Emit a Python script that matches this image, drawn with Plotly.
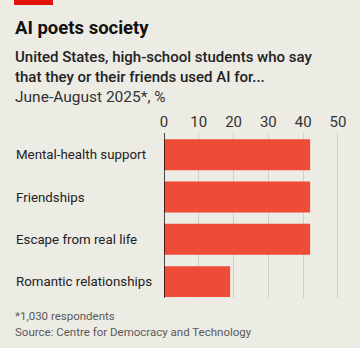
import plotly.graph_objects as go

categories = ["Mental-health support", "Friendships", "Escape from real life", "Romantic relationships"]
values = [42, 42, 42, 19]
tick_vals = [0, 10, 20, 30, 40, 50]
tick_text = ["0", "10", "20", "30", "40", "50"]

W, H = 360, 348
L, R, T, B = 164, 21, 133, 50
PW, PH = W - L - R, H - T - B

def px(x):
    return (x - L) / PW

def py(y):
    return 1 - (y - T) / PH

BG = "#ecebe4"
RED = "#ee4c37"
FONT = "Roboto"

fig = go.Figure()
fig.add_trace(go.Bar(
    x=values, y=categories, orientation="h",
    marker=dict(color=RED, line=dict(width=0)),
    hoverinfo="skip",
))

annotations = []
for c in categories:
    annotations.append(dict(
        x=px(14), xref="paper", y=c, yref="y", text=c, showarrow=False,
        xanchor="left", yanchor="middle",
        font=dict(family=FONT, size=13.3, color="#222222"),
    ))

annotations += [
    dict(x=px(13), y=py(28), xref="paper", yref="paper", text="<b>AI poets society</b>",
         showarrow=False, xanchor="left", yanchor="middle",
         font=dict(family=FONT, size=18.5, color="#111111")),
    dict(x=px(13), y=py(57), xref="paper", yref="paper",
         text="United States, high-school students who say",
         showarrow=False, xanchor="left", yanchor="middle",
         font=dict(family=FONT, size=15, color="#222222", weight=500)),
    dict(x=px(13), y=py(77), xref="paper", yref="paper",
         text="that they or their friends used AI for...",
         showarrow=False, xanchor="left", yanchor="middle",
         font=dict(family=FONT, size=15, color="#222222", weight=500)),
    dict(x=px(13), y=py(97), xref="paper", yref="paper",
         text="June-August 2025*, %",
         showarrow=False, xanchor="left", yanchor="middle",
         font=dict(family=FONT, size=15.5, color="#333333")),
    dict(x=px(13), y=py(316), xref="paper", yref="paper",
         text="*1,030 respondents",
         showarrow=False, xanchor="left", yanchor="middle",
         font=dict(family=FONT, size=11.5, color="#5a5a5a")),
    dict(x=px(13), y=py(332), xref="paper", yref="paper",
         text="Source: Centre for Democracy and Technology",
         showarrow=False, xanchor="left", yanchor="middle",
         font=dict(family=FONT, size=11.5, color="#5a5a5a")),
]

shapes = [
    dict(type="rect", xref="paper", yref="paper",
         x0=px(14), x1=px(53), y0=py(0), y1=py(5),
         fillcolor="#e3120b", line=dict(width=0), layer="above"),
    dict(type="line", xref="x", yref="paper", x0=0, x1=0, y0=0, y1=1,
         line=dict(color="#111111", width=1.5), layer="above"),
]

fig.update_layout(
    width=W, height=H,
    margin=dict(l=L, r=R, t=T, b=B, pad=0),
    paper_bgcolor=BG, plot_bgcolor=BG,
    showlegend=False,
    bargap=0.27,
    annotations=annotations,
    shapes=shapes,
    xaxis=dict(
        range=[0, 50.3], side="top", tickvals=tick_vals, ticktext=tick_text,
        showgrid=True, gridcolor="#cfcdc5", gridwidth=1, zeroline=False,
        ticks="", ticklabelstandoff=2,
        tickfont=dict(family=FONT, size=15, color="#333333"),
        fixedrange=True,
    ),
    yaxis=dict(
        categoryorder="array", categoryarray=categories,
        range=[3.388, -0.513], showticklabels=False, showgrid=False,
        zeroline=False, ticks="", fixedrange=True,
    ),
)

fig.write_html("out.html", config={"displayModeBar": False})
